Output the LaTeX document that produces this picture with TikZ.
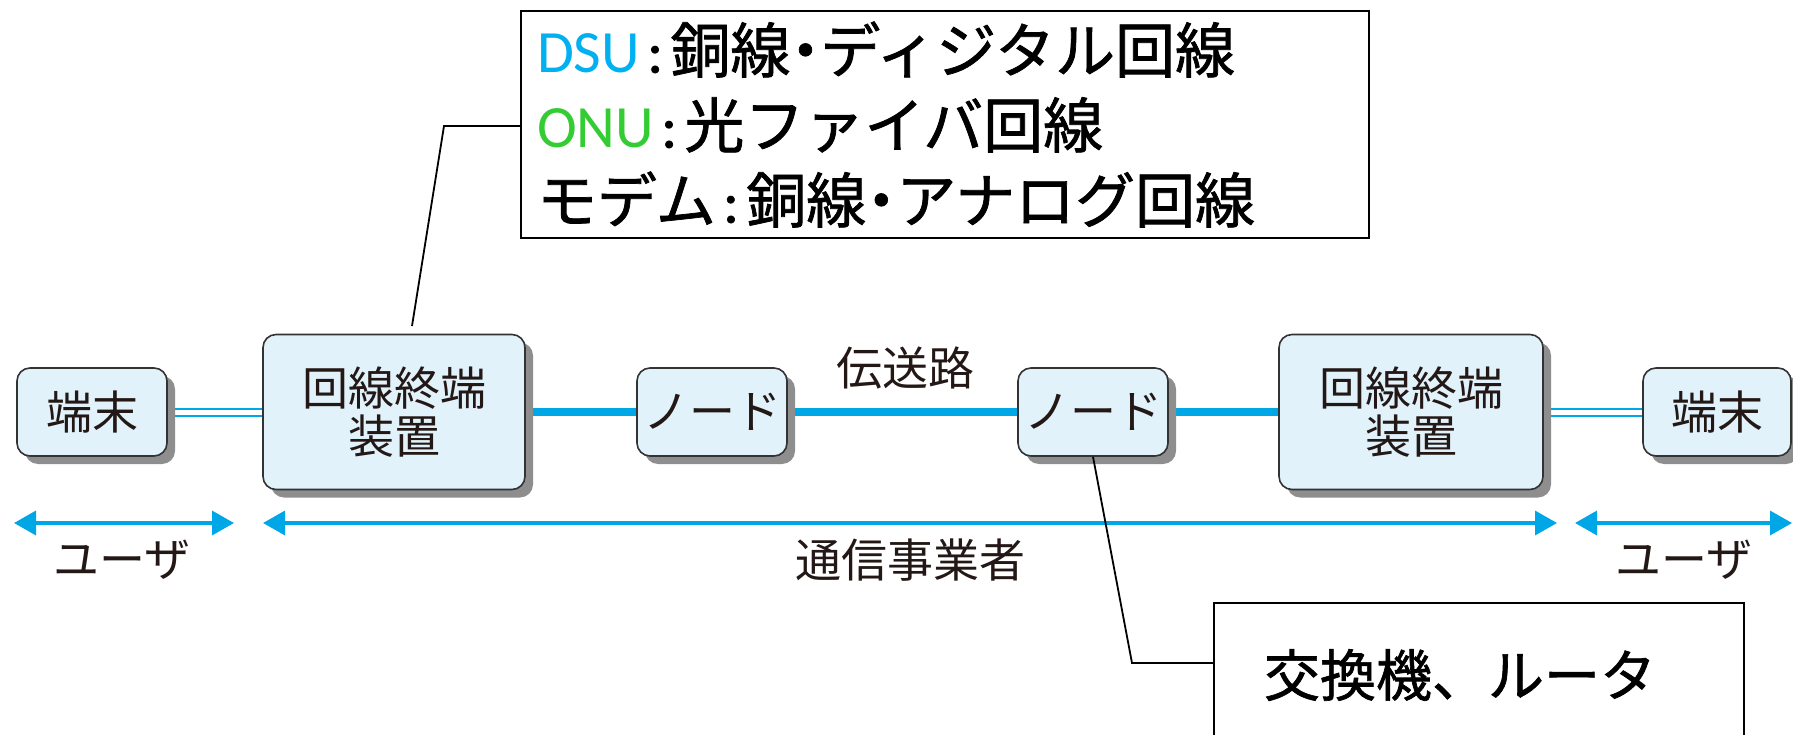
\documentclass[tikz,border=0pt]{standalone}
\usepackage{fontspec}
\setmainfont{Carlito}
\newfontfamily\jp{Noto Sans CJK JP}
\newfontfamily\jpb[FakeBold=1.2]{Noto Sans CJK JP}
\newfontfamily\latb[FakeBold=1.0]{Carlito}
\usetikzlibrary{arrows.meta,shadows,backgrounds}
\definecolor{boxblue}{HTML}{E1F2FB}
\definecolor{lineblue}{HTML}{00A7E6}
\definecolor{dsucol}{HTML}{00B0F0}
\definecolor{onucol}{HTML}{33CC33}
\definecolor{txtdark}{HTML}{231815}
\definecolor{shadowgray}{HTML}{8E8E8E}
\newcommand{\nakaguro}{\makebox[0.5em][c]{・}}
\newcommand{\sepcolon}{\hspace{0.12em}{\latb :}\hspace{0.12em}}
\begin{document}
\begin{tikzpicture}[x=1pt,y=-1pt,
  unit/.style={draw=black!80, line width=1.6pt, rounded corners=13pt, fill=boxblue, text=txtdark,
     drop shadow={shadow xshift=8pt, shadow yshift=-8pt, fill=shadowgray, opacity=1},
     font=\jp\fontsize{46}{48}\selectfont, align=center, inner sep=0pt},
  lbl/.style={text=txtdark, font=\jp\fontsize{46}{48}\selectfont, inner sep=0pt},
  thickline/.style={draw=lineblue, line width=7.5pt},
  dblline/.style={draw=lineblue, line width=2pt, double=white, double distance=5pt},
  dimarrow/.style={draw=lineblue, line width=3.5pt, {Triangle[length=22pt,width=24pt]}-{Triangle[length=22pt,width=24pt]}},
  callout/.style={draw=black, line width=1.8pt},
  calloutbox/.style={draw=black, line width=2.2pt},
]
\useasboundingbox (0,0) rectangle (1793,735);

% units
\node[unit, minimum width=150pt, minimum height=88pt] (termL) at (92,412) {端末};
\node[unit, minimum width=262pt, minimum height=155pt] (lineL) at (394,412) {回線終端\\装置};
\node[unit, minimum width=150pt, minimum height=88pt] (node1) at (712,412) {ノード};
\node[unit, minimum width=150pt, minimum height=88pt] (node2) at (1093,412) {ノード};
\node[unit, minimum width=264pt, minimum height=155pt] (lineR) at (1411,412) {回線終端\\装置};
\node[unit, minimum width=148pt, minimum height=88pt] (termR) at (1717,412) {端末};

\node[lbl] (tpath) at (905,368) {伝送路};

% connectors on background
\begin{scope}[on background layer]
\draw[dblline] (termL.east) -- (lineL.west);
\draw[thickline] (lineL.east) -- (node1.west);
\draw[thickline] (node1.east) -- (node2.west);
\draw[thickline] (node2.east) -- (lineR.west);
\draw[dblline] (lineR.east) -- (termR.west);
\end{scope}

% dimension arrows
\coordinate (u1a) at (14,523);
\coordinate (u1b) at (234,523);
\coordinate (ca) at (263,523);
\coordinate (cb) at (1557,523);
\coordinate (u2a) at (1575,523);
\coordinate (u2b) at (1792,523);
\draw[dimarrow] (u1a) -- (u1b);
\draw[dimarrow] (ca) -- (cb);
\draw[dimarrow] (u2a) -- (u2b);
\node[lbl] (userL) at (122,560) {ユーザ};
\node[lbl] (carrier) at (910,560) {通信事業者};
\node[lbl] (userR) at (1684,560) {ユーザ};

% top callout
\node[calloutbox, minimum width=848pt, minimum height=227pt, inner xsep=16pt, text width=816pt, align=left,
      font=\fontsize{60}{75}\selectfont] (info) at (945,124.5)
  {\textcolor{dsucol}{DSU}\sepcolon{\jpb 銅線\nakaguro ディジタル回線}\\
   \textcolor{onucol}{ONU}\sepcolon{\jpb 光ファイバ回線}\\
   {\jpb モデム}\sepcolon{\jpb 銅線\nakaguro アナログ回線}};
\coordinate (cA) at (412,326);
\coordinate (cB) at (444,126);
\draw[callout] (cA) -- (cB) -- (cB -| info.west);

% bottom callout
\coordinate (bx1) at (1214,735);
\coordinate (bx2) at (1214,603);
\coordinate (bx3) at (1744,603);
\coordinate (bx4) at (1744,735);
\draw[calloutbox] (bx1) -- (bx2) -- (bx3) -- (bx4);
\node[font=\jpb\fontsize{56}{60}\selectfont, inner sep=0pt] (sw) at (1460,675) {交換機、ルータ};
\coordinate (sA) at (1132,663);
\coordinate (sB) at (1214,663);
\draw[callout] (node2.south) -- (sA) -- (sB);
\end{tikzpicture}
\end{document}
